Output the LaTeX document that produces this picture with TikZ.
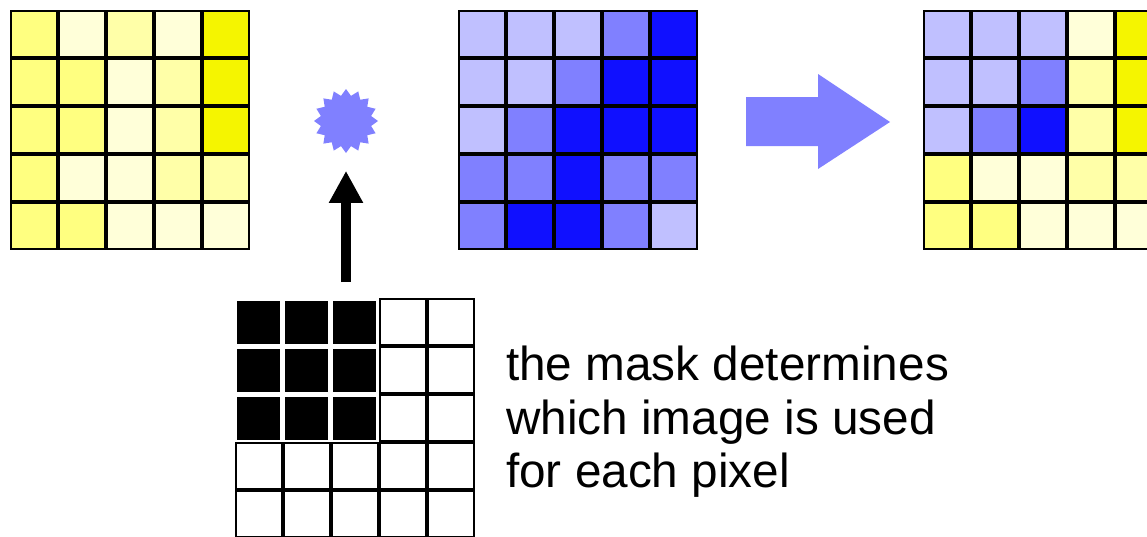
\documentclass[tikz,border=0pt]{standalone}
\usepackage{fontspec}
\setmainfont{Liberation Sans}
\usetikzlibrary{shapes.geometric,arrows.meta}
\definecolor{Y0}{HTML}{FFFFD9}
\definecolor{Y1}{HTML}{FFFFA8}
\definecolor{Y2}{HTML}{FFFF80}
\definecolor{Y3}{HTML}{F5F500}
\definecolor{B0}{HTML}{C0C0FF}
\definecolor{B1}{HTML}{8080FF}
\definecolor{B2}{HTML}{1010FF}
\tikzset{
  cell/.style={draw=black, line width=2pt, rectangle, minimum size=46pt, inner sep=0pt, outer sep=0pt},
  maskon/.style={fill=black, draw=none, rectangle, minimum size=43pt, inner sep=0pt},
  upArrow/.style={line width=10pt, -{Triangle[width=32pt,length=32pt]}},
  bigArrow/.style={fill=B1, draw=none},
  note/.style={anchor=base west, inner sep=0pt, font=\fontsize{47.7}{54}\selectfont},
  burst/.style={star, star points=16, star point ratio=1.25, minimum size=64pt, inner sep=0pt, fill=B1, draw=none}
}
\begin{document}
\begin{tikzpicture}[x=1pt,y=-1pt]
\useasboundingbox (0,0) rectangle (1147,536);
\clip (0,0) rectangle (1147,536);
% left (yellow) image
\foreach \row [count=\r] in {{Y2,Y0,Y1,Y0,Y3},{Y2,Y2,Y0,Y1,Y3},{Y2,Y2,Y0,Y1,Y3},{Y2,Y0,Y0,Y1,Y1},{Y2,Y2,Y0,Y0,Y0}}{
  \foreach \col [count=\c] in \row {
    \node[cell, fill=\col] (L-\r-\c) at ({34+48*(\c-1)},{34+48*(\r-1)}) {};
  }
}
% middle (blue) image
\foreach \row [count=\r] in {{B0,B0,B0,B1,B2},{B0,B0,B1,B2,B2},{B0,B1,B2,B2,B2},{B1,B1,B2,B1,B1},{B1,B2,B2,B1,B0}}{
  \foreach \col [count=\c] in \row {
    \node[cell, fill=\col] (B-\r-\c) at ({482+48*(\c-1)},{34+48*(\r-1)}) {};
  }
}
% right (result) image
\foreach \row [count=\r] in {{B0,B0,B0,Y0,Y3},{B0,B0,B1,Y1,Y3},{B0,B1,B2,Y1,Y3},{Y2,Y0,Y0,Y1,Y1},{Y2,Y2,Y0,Y0,Y0}}{
  \foreach \col [count=\c] in \row {
    \node[cell, fill=\col] (R-\r-\c) at ({946.5+48*(\c-1)},{34+48*(\r-1)}) {};
  }
}
% mask
\foreach \row [count=\r] in {{1,1,1,0,0},{1,1,1,0,0},{1,1,1,0,0},{0,0,0,0,0},{0,0,0,0,0}}{
  \foreach \v [count=\c] in \row {
    \ifnum\v=1
      \node[maskon] (M-\r-\c) at ({258+48*(\c-1)},{322+48*(\r-1)}) {};
    \else
      \node[cell, fill=white] (M-\r-\c) at ({259+48*(\c-1)},{322+48*(\r-1)}) {};
    \fi
  }
}
% starburst and arrow from the mask
\node[burst] (star) at (346,121) {};
\coordinate (foot) at (346,282);
\draw[upArrow, shorten >=17.5pt] (foot) -- (star.south);
% big blue arrow
\fill[bigArrow] (746,97) -- (818,97) -- (818,74) -- (890,122) -- (818,169) -- (818,146) -- (746,146) -- cycle;
% text
\node[note] (t1) at (506,380) {the mask determines};
\node[note] (t2) at (506,434) {which image is used};
\node[note] (t3) at (506,487) {for each pixel};
\end{tikzpicture}
\end{document}
